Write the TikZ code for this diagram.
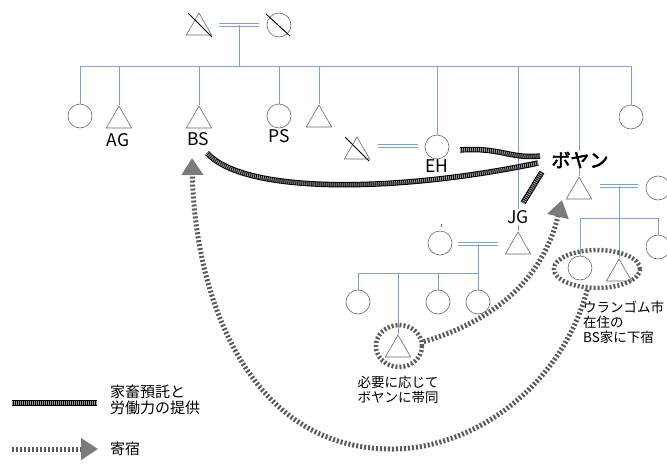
\documentclass[tikz,border=0pt]{standalone}
\usepackage{fontspec}
\setmainfont{Noto Sans CJK JP}
\newfontfamily\bfcjk{Noto Sans CJK JP}[FakeBold=2.8]
\usetikzlibrary{shapes.geometric,arrows.meta}
\definecolor{kin}{RGB}{125,160,205}
\definecolor{shp}{RGB}{105,105,105}
\definecolor{stripe}{RGB}{90,90,90}
\begin{document}
\begin{tikzpicture}[x=1pt,y=-1pt,
  kinline/.style={draw=kin,line width=0.8pt},
  marr/.style={draw=kin,line width=1pt,double=white,double distance=2pt},
  fem/.style={circle,draw=shp,line width=0.6pt,minimum size=24pt,inner sep=0pt},
  mal/.style={regular polygon,regular polygon sides=3,draw=shp,line width=0.6pt,minimum size=29.3pt,inner sep=0pt},
  crossline/.style={draw=black,line width=0.9pt},
  lbl/.style={font=\fontsize{17.5}{19}\selectfont,inner sep=1pt},
  jp/.style={font=\fontsize{13.5}{15}\selectfont,inner sep=0pt},
  help/.style={line width=5.5pt,draw=black,postaction={draw=black!40,line width=3.6pt,dash pattern=on 1pt off 1pt}},
  stay/.style={line width=5pt,draw=stripe,dash pattern=on 2pt off 2pt},
  stayhead/.style={-{Triangle[width=21pt,length=17pt,color=stripe!80]}},
  stayring/.style={ellipse,draw=stripe,line width=4.5pt,dash pattern=on 2pt off 2pt,inner sep=0pt}]
\useasboundingbox (0,0) rectangle (667,466);

% ---- top generation
\node[mal] (gf) at (199,27.7) {};
\node[fem] (gm) at (279,25) {};
\draw[crossline] (188,13) -- (212,37);
\draw[crossline] (266,14) -- (290,36);
\coordinate (m0a) at (219,25);
\coordinate (m0b) at (259,25);
\coordinate (m0) at (239,25);
\coordinate (s0) at (239,66);
\draw[marr] (m0a) -- (m0b);
\draw[kinline] (m0) -- (s0);
\coordinate (sL) at (80,66);
\coordinate (sR) at (631,66);
\draw[kinline] (sL) -- (sR);

% ---- children
\node[fem] (c1) at (80,116) {};
\node[mal] (ag) at (119,120.7) {};
\node[mal] (bs) at (199,120.7) {};
\node[fem] (ps) at (279,116) {};
\node[mal] (c5) at (319,119.7) {};
\node[fem] (eh) at (437,147) {};
\node[mal] (jg) at (518,246.7) {};
\node[mal] (by) at (579,191.7) {};
\node[fem] (c9) at (631,117) {};
\foreach \n/\x in {c1/80,ag/119,bs/199,ps/279,c5/319,eh/437,jg/518,by/579,c9/631}
  \draw[kinline] (\x,66) -- (\n.north);

% ---- EH spouse
\node[mal] (ehs) at (357,151.7) {};
\draw[crossline] (345,137) -- (369,161);
\coordinate (m1a) at (378,146);
\coordinate (m1b) at (418,146);
\draw[marr] (m1a) -- (m1b);

% ---- Boyan family
\node[fem] (bys) at (658,188) {};
\coordinate (m2a) at (600,186);
\coordinate (m2b) at (638,186);
\coordinate (m2) at (619,186);
\draw[marr] (m2a) -- (m2b);
\node[fem] (bd) at (580,268) {};
\node[mal] (bsn) at (619,273.7) {};
\node[fem] (bd2) at (658,247) {};
\coordinate (h2a) at (580,218);
\coordinate (h2b) at (658,218);
\draw[kinline] (m2) -- (bsn.north);
\draw[kinline] (h2a) -- (h2b);
\draw[kinline] (h2a) -- (bd.north);
\draw[kinline] (h2b) -- (bd2.north);

% ---- JG family
\node[fem] (jgw) at (440,243) {};
\draw[draw=shp,line width=0.5pt] (441,224) -- (441,227);
\coordinate (m3a) at (458,244);
\coordinate (m3b) at (498,244);
\coordinate (m3) at (478,244);
\draw[marr] (m3a) -- (m3b);
\coordinate (h3a) at (358,273);
\coordinate (h3b) at (478,273);
\node[fem] (j1) at (358,302) {};
\node[mal] (j2) at (398,349.7) {};
\node[fem] (j3) at (438,302) {};
\node[fem] (j4) at (478,302) {};
\draw[kinline] (m3) -- (j4.north);
\draw[kinline] (h3a) -- (h3b);
\draw[kinline] (h3a) -- (j1.north);
\draw[kinline] (398,273) -- (j2.north);
\draw[kinline] (438,273) -- (j3.north);

% ---- labels
\node[lbl] (lag) at (118,140) {AG};
\node[lbl] (lbs) at (198,139) {BS};
\node[lbl] (lps) at (279,136) {PS};
\node[lbl] (leh) at (437,166) {EH};
\node[lbl,fill=white] (ljg) at (518,217) {JG};
\node[fill=white,inner sep=1pt,font=\fontsize{19}{21}\selectfont\bfcjk] (lby) at (580,160) {ボヤン};
\node[jp,align=center] (t1) at (398,390) {必要に応じて\\ボヤンに帯同};
\node[jp,align=left,anchor=north west] (t2) at (583,301) {ウランゴム市\\在住の\\BS家に下宿};

% ---- rings
\node[stayring,minimum width=46pt,minimum height=42pt] (e1) at (399,346) {};
\node[stayring,minimum width=86pt,minimum height=38pt] (e2) at (597,269) {};

% ---- help lines (black)
\coordinate (k1) at (207,153);
\coordinate (k2) at (538,163);
\coordinate (k3) at (460,150);
\coordinate (k4) at (540,156);
\coordinate (k5) at (523,203);
\coordinate (k6) at (542,172);
\draw[help] (k1) .. controls (245,195) and (400,192) .. (k2);
\draw[help] (k3) .. controls (500,147) and (510,159) .. (k4);
\draw[help] (k5) -- (k6);

% ---- stay arrows
\coordinate (a1) at (562,200);
\coordinate (a2) at (192,158);
\coordinate (b1) at (390,449);
\draw[stay,stayhead] (e1.10) .. controls (480,325) and (540,290) .. (a1);
\draw[stay,stayhead] (e2.245) .. controls (560,390) and (470,450) .. (b1)
   .. controls (250,448) and (195,300) .. (a2);

% ---- legend
\coordinate (L1a) at (12,403);
\coordinate (L1b) at (97,403);
\coordinate (L2a) at (12,449);
\coordinate (L2b) at (98,449);
\draw[help] (L1a) -- (L1b);
\draw[stay,stayhead] (L2a) -- (L2b);
\node[font=\fontsize{15}{16}\selectfont,align=left,anchor=west,inner sep=0pt] (lg1) at (110,400) {家畜預託と\\労働力の提供};
\node[font=\fontsize{15}{16}\selectfont,anchor=west,inner sep=0pt] (lg2) at (110,449) {寄宿};
\end{tikzpicture}
\end{document}
